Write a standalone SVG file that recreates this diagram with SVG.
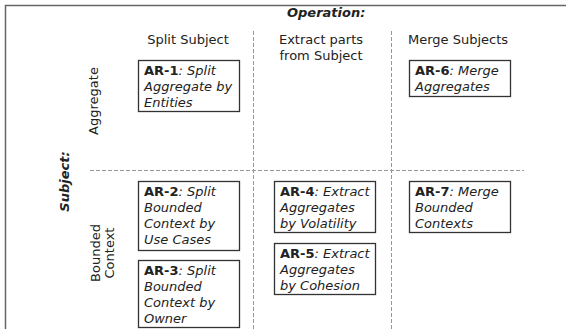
<svg xmlns="http://www.w3.org/2000/svg" width="566" height="329" viewBox="0 0 566 329">
<style>
text{font-family:"DejaVu Sans","Liberation Sans",sans-serif;font-size:13px;fill:#222}
.h{font-weight:bold;font-style:italic}
.b{font-weight:bold;font-style:normal}
.i{font-style:italic}
.box{fill:#fff;stroke:#333;stroke-width:1.3}
.grid{stroke:#999;stroke-width:1;stroke-dasharray:4 2;fill:none}
.c{text-anchor:middle}
</style>
<rect x="5.5" y="5.5" width="580" height="340" fill="#fff" stroke="#666" stroke-width="1.5"/>
<g id="connectors">
<line class="grid" x1="253.5" y1="31" x2="253.5" y2="329"/>
<line class="grid" x1="391.5" y1="31" x2="391.5" y2="329"/>
<line class="grid" x1="90" y1="170.5" x2="524" y2="170.5"/>
</g>
<g id="headers">
<text class="h" x="287" y="17">Operation:</text>
<text class="h c" transform="translate(69,181.5) rotate(-90)">Subject:</text>
<text class="c" x="188" y="44">Split Subject</text>
<text class="c" x="321" y="44">Extract parts</text>
<text class="c" x="321" y="60">from Subject</text>
<text class="c" x="458" y="44">Merge Subjects</text>
<text class="c" transform="translate(97.5,101) rotate(-90)">Aggregate</text>
<text class="c" transform="translate(99.5,253) rotate(-90)">Bounded</text>
<text class="c" transform="translate(114,253) rotate(-90)">Context</text>
</g>
<g id="ar1">
<rect class="box" x="138.5" y="60.5" width="101" height="51"/>
<text x="144" y="75"><tspan class="b">AR-1</tspan><tspan class="i">: Split</tspan></text>
<text class="i" x="144" y="91">Aggregate by</text>
<text class="i" x="144" y="107">Entities</text>
</g>
<g id="ar6">
<rect class="box" x="409.5" y="60.5" width="101" height="36"/>
<text x="415" y="75"><tspan class="b">AR-6</tspan><tspan class="i">: Merge</tspan></text>
<text class="i" x="415" y="91">Aggregates</text>
</g>
<g id="ar2">
<rect class="box" x="138.5" y="181.5" width="101" height="69"/>
<text x="144" y="196"><tspan class="b">AR-2</tspan><tspan class="i">: Split</tspan></text>
<text class="i" x="144" y="212">Bounded</text>
<text class="i" x="144" y="228">Context by</text>
<text class="i" x="144" y="244">Use Cases</text>
</g>
<g id="ar3">
<rect class="box" x="138.5" y="260.5" width="101" height="67"/>
<text x="144" y="275"><tspan class="b">AR-3</tspan><tspan class="i">: Split</tspan></text>
<text class="i" x="144" y="291">Bounded</text>
<text class="i" x="144" y="307">Context by</text>
<text class="i" x="144" y="323">Owner</text>
</g>
<g id="ar4">
<rect class="box" x="274.5" y="181.5" width="101" height="51"/>
<text x="280" y="196"><tspan class="b">AR-4</tspan><tspan class="i">: Extract</tspan></text>
<text class="i" x="280" y="212">Aggregates</text>
<text class="i" x="280" y="228">by Volatility</text>
</g>
<g id="ar5">
<rect class="box" x="274.5" y="243.5" width="101" height="51"/>
<text x="280" y="258"><tspan class="b">AR-5</tspan><tspan class="i">: Extract</tspan></text>
<text class="i" x="280" y="274">Aggregates</text>
<text class="i" x="280" y="290">by Cohesion</text>
</g>
<g id="ar7">
<rect class="box" x="409.5" y="181.5" width="101" height="51"/>
<text x="415" y="196"><tspan class="b">AR-7</tspan><tspan class="i">: Merge</tspan></text>
<text class="i" x="415" y="212">Bounded</text>
<text class="i" x="415" y="228">Contexts</text>
</g>
</svg>
